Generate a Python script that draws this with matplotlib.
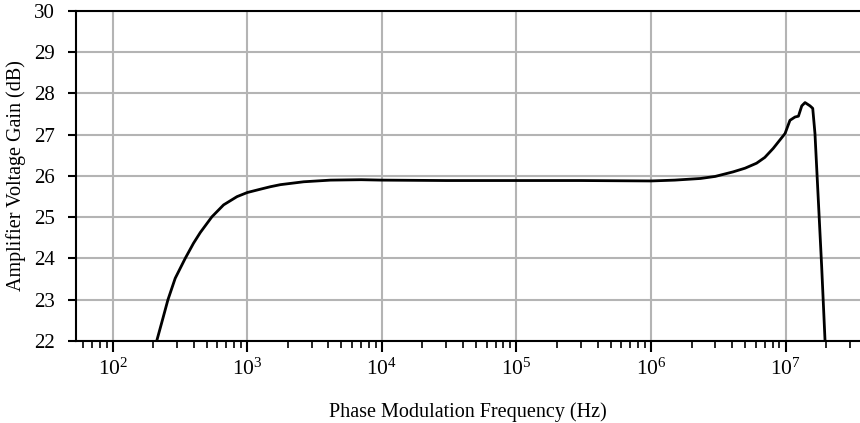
import matplotlib
matplotlib.use("Agg")
import matplotlib.pyplot as plt
from matplotlib.ticker import LogLocator, FixedLocator, NullFormatter

plt.rcParams['font.family'] = ['Liberation Serif', 'DejaVu Serif']
plt.rcParams['mathtext.fontset'] = 'custom'
plt.rcParams['mathtext.rm'] = 'Liberation Serif'
plt.rcParams['mathtext.it'] = 'Liberation Serif:italic'
plt.rcParams['mathtext.bf'] = 'Liberation Serif:bold'

freq_hz = [212, 234, 257, 291, 345, 398, 447, 545, 666, 838, 1000, 1250, 1483, 1760,
           2624, 4150, 7000,
           1.0e4, 3.0e4, 1.0e5, 3.0e5, 1.0e6, 1.5e6, 2.33e6, 3.0e6, 4.07e6, 5.0e6,
           6.08e6, 7.0e6, 8.09e6, 9.9e6, 1.077e7, 1.174e7, 1.245e7, 1.318e7,
           1.394e7, 1.518e7, 1.59e7, 1.652e7, 1.75e7, 1.853e7, 1.963e7]
gain_db = [22.0, 22.51, 23.0, 23.52, 24.0, 24.37, 24.63, 25.01, 25.30, 25.50, 25.60,
           25.68, 25.74, 25.79, 25.86, 25.90, 25.91,
           25.90, 25.89, 25.89, 25.89, 25.88, 25.90, 25.94, 25.99, 26.10, 26.19,
           26.31, 26.45, 26.67, 27.03, 27.35, 27.43, 27.45, 27.70,
           27.78, 27.70, 27.64, 27.03, 25.41, 23.8, 22.0]

y_ticks = [22, 23, 24, 25, 26, 27, 28, 29, 30]
x_ticks = [1e2, 1e3, 1e4, 1e5, 1e6, 1e7]
x_tick_labels = [r'$10^{2}$', r'$10^{3}$', r'$10^{4}$', r'$10^{5}$', r'$10^{6}$', r'$10^{7}$']

fig = plt.figure(figsize=(8.6, 4.23), dpi=100)
ax = fig.add_axes([76/860, 1 - 341/423, (860 - 76)/860, (341 - 11)/423])

ax.plot(freq_hz, gain_db, color='black', lw=2.0, solid_joinstyle='round', zorder=3)

ax.set_xscale('log')
ax.set_xlim(53.3, 3.57e7)
ax.set_ylim(22, 30)

ax.xaxis.set_major_locator(FixedLocator(x_ticks))
ax.set_xticklabels(x_tick_labels)
ax.xaxis.set_minor_locator(LogLocator(base=10, subs=range(2, 10), numticks=20))
ax.xaxis.set_minor_formatter(NullFormatter())
ax.set_yticks(y_ticks)

ax.grid(True, which='major', color='#b4b4b4', lw=1.5)
ax.set_axisbelow(True)

for s in ['left', 'top', 'bottom']:
    ax.spines[s].set_linewidth(1.5)
ax.spines['right'].set_visible(False)

ax.tick_params(axis='both', which='major', direction='out', width=1.5, color='black')
ax.tick_params(axis='x', which='major', length=8, pad=5, labelsize=15.5)
ax.tick_params(axis='y', which='major', length=6, pad=9, labelsize=15)
ax.tick_params(axis='x', which='minor', direction='out', length=5, width=1.2)

ax.set_xlabel('Phase Modulation Frequency (Hz)', fontsize=14.5)
ax.set_ylabel('Amplifier Voltage Gain (dB)', fontsize=14.5)
ax.xaxis.set_label_coords(0.5, -0.185)
ax.yaxis.set_label_coords(-0.064, 0.5)

fig.savefig('out.png', dpi=100)
